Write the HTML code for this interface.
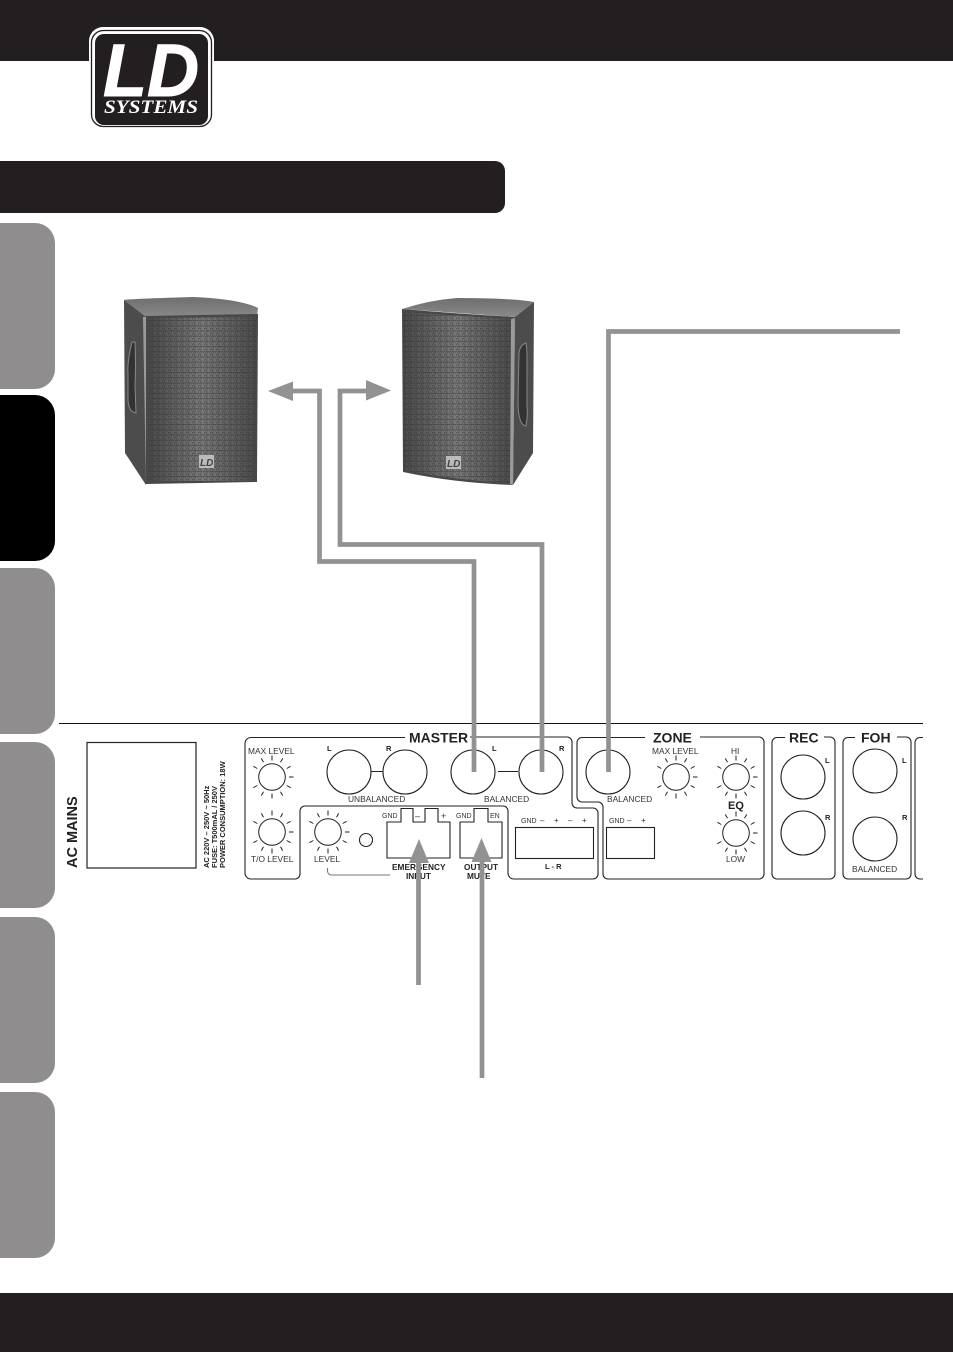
<!DOCTYPE html>
<html><head><meta charset="utf-8"><style>
html,body{margin:0;padding:0;background:#fff}
svg{display:block}
text{font-family:"Liberation Sans",sans-serif}
</style></head><body>
<svg width="953" height="1352" viewBox="0 0 953 1352" xmlns="http://www.w3.org/2000/svg">
<defs>
<pattern id="hex" width="6" height="5.2" patternUnits="userSpaceOnUse">
<path d="M0 1.3L1.5 0.4L3 1.3V2.9L1.5 3.8L0 2.9ZM3 3.9L4.5 3L6 3.9V5.5L4.5 6.4L3 5.5Z" fill="none" stroke="#2a2a2a" stroke-width=".55" stroke-opacity=".75"/>
</pattern>
<linearGradient id="gr" x1="0" x2="1" y1="0" y2="0"><stop offset="0" stop-color="#4a4a4a"/><stop offset=".5" stop-color="#7a7a7a"/><stop offset="1" stop-color="#4c4c4c"/></linearGradient>
<linearGradient id="top" x1="0" x2="0" y1="0" y2="1"><stop offset="0" stop-color="#6e6e6e"/><stop offset="1" stop-color="#8a8a8a"/></linearGradient>
<g id="k" stroke="#222" stroke-width="1" fill="none">
<circle r="13.3" fill="#fff"/>
<path d="M0-16.5V-21.5M8.5-14.7L10.700-18.600M14.700-8.500L18.600-10.700M17 0H21.500M14.700 8.500L18.600 10.700M8.500 14.700L10.700 18.600M0 16.500V21.500M-8.500 14.700L-10.700 18.600M-14.700 8.500L-18.600 10.700M-14.700-8.500L-18.600-10.700M-8.500-14.700L-10.700-18.600"/>
</g>
</defs>

<rect width="953" height="61" fill="#231f20"/>
<rect y="1293" width="953" height="59" fill="#231f20"/>

<!-- logo -->
<rect x="89" y="27" width="125" height="100" rx="14" fill="#fff"/>
<rect x="91.500" y="30.500" width="120" height="96" rx="12" fill="#fff" stroke="#231f20" stroke-width="1.300"/>
<rect x="95" y="34" width="113" height="91" rx="9" fill="#231f20"/>
<text x="103" y="96" font-size="74" font-weight="700" font-style="italic" fill="#fff" stroke="#fff" stroke-width="1" textLength="96" lengthAdjust="spacingAndGlyphs">LD</text>
<text x="104" y="113" font-size="18.500" font-weight="700" font-style="italic" fill="#fff" style='font-family:"Liberation Serif",serif' textLength="94" lengthAdjust="spacingAndGlyphs">SYSTEMS</text>

<!-- title bar -->
<path d="M0 161H495a10 10 0 0 1 10 10V203a10 10 0 0 1-10 10H0Z" fill="#231f20"/>

<!-- side tabs -->
<g fill="#8f8d8d">
<path d="M0 223H35a20 20 0 0 1 20 20V369a20 20 0 0 1-20 20H0Z"/>
<path d="M0 568H35a20 20 0 0 1 20 20V714a20 20 0 0 1-20 20H0Z"/>
<path d="M0 742H35a20 20 0 0 1 20 20V888a20 20 0 0 1-20 20H0Z"/>
<path d="M0 917H35a20 20 0 0 1 20 20V1063a20 20 0 0 1-20 20H0Z"/>
<path d="M0 1092H35a20 20 0 0 1 20 20V1238a20 20 0 0 1-20 20H0Z"/>
</g>
<path d="M0 395H35a20 20 0 0 1 20 20V541a20 20 0 0 1-20 20H0Z" fill="#000"/>

<!-- speaker 1 -->
<path d="M124 300Q126 299 193 297Q240 299 258 308L257 316L146 318Z" fill="url(#top)"/>
<path d="M124 300L146 317L146 485L125 453Z" fill="#4c4c4c"/>
<path d="M132 342q-5 20-4 32l0 24q0 14 8 15l-1-28q1-24 0-43Z" fill="#333" stroke="#888" stroke-width="1"/>
<path d="M143 317L148 317V484L146 484Z" fill="#9a9a9a"/>
<path d="M146 316L258 314L257 482L146 484Z" fill="#484848"/>
<path d="M148 318L256 317L255 481L148 481Z" fill="url(#gr)"/>
<path d="M148 318L256 317L255 481L148 481Z" fill="url(#hex)"/>
<rect x="199" y="455" width="15" height="13" fill="#bbb"/>
<text x="200" y="466" font-size="10" font-weight="700" font-style="italic" fill="#444">LD</text>

<!-- speaker 2 -->
<path d="M402 309Q430 300 457 298Q510 298 534 302L515 317Z" fill="url(#top)"/>
<path d="M515 317L534 302L533 453L513 485Z" fill="#4c4c4c"/>
<path d="M526 343q-6 2-7 10l-1 48q0 24 8 25q2-10 1-20l0-50q0-8-1-13Z" fill="#333" stroke="#888" stroke-width="1"/>
<path d="M402 309Q460 314 515 317L513 485Q455 483 403 472Z" fill="#484848"/>
<path d="M403 312Q460 316 511 319L510 483Q455 480 404 470Z" fill="url(#gr)"/>
<path d="M403 312Q460 316 511 319L510 483Q455 480 404 470Z" fill="url(#hex)"/>
<path d="M511 319L515 318L513 485L510 484Z" fill="#9a9a9a"/>
<rect x="446" y="456" width="15" height="13" fill="#bbb"/>
<text x="447" y="467" font-size="10" font-weight="700" font-style="italic" fill="#444">LD</text>

<!-- rule -->
<path d="M59 723.500H923" stroke="#111" stroke-width="1"/>

<!-- panel outlines -->
<g fill="none" stroke="#222" stroke-width="1.100">
<rect x="87" y="742.500" width="109" height="125.500" stroke-width="1.200"/>
<path d="M405 737.500H251a6 6 0 0 0-6 6V873a6 6 0 0 0 6 6H295a5 5 0 0 0 5-5V811a5 5 0 0 1 5-5H503a5 5 0 0 1 5 5V873a6 6 0 0 0 6 6H593a5 5 0 0 0 5-5V813a5 5 0 0 0-5-5H577a5 5 0 0 1-5-5V742a5 5 0 0 0-5-5H470"/>
<path d="M645 737.500H582a5 5 0 0 0-5 5V797a5 5 0 0 0 5 5H598a5 5 0 0 1 5 5V874a5 5 0 0 0 5 5H759a5 5 0 0 0 5-5V742a5 5 0 0 0-5-5H700"/>
<path d="M785 737.500H777a5 5 0 0 0-5 5V874a5 5 0 0 0 5 5H830a5 5 0 0 0 5-5V742a5 5 0 0 0-5-5H824"/>
<path d="M855 737.500H848a5 5 0 0 0-5 5V874a5 5 0 0 0 5 5H906a5 5 0 0 0 5-5V742a5 5 0 0 0-5-5H897"/>
<path d="M923 737.500H920a5 5 0 0 0-5 5V874a5 5 0 0 0 5 5H923"/>
<circle cx="349" cy="772" r="22"/><circle cx="405" cy="772" r="22"/>
<path d="M371 771.500H383M498 771.500H518"/>
<circle cx="473" cy="772" r="22"/><circle cx="541" cy="772" r="22"/>
<circle cx="608" cy="772" r="22"/>
<circle cx="803" cy="777" r="22"/><circle cx="803" cy="833" r="22"/>
<circle cx="875" cy="771" r="22"/><circle cx="875" cy="839" r="22"/>
<circle cx="366" cy="840" r="6.500"/>
<path d="M387 858V822H401V808.500H413V822H425V808.500H438V822H450V858Z"/>
<path d="M460 858V822H474V808.500H488V822H502V858Z"/>
<rect x="515.500" y="827.500" width="78" height="31"/>
<rect x="606.500" y="827.500" width="48" height="31"/>
<path d="M327.500 868V871a4 4 0 0 0 4 4H390" stroke="#777"/>
</g>
<use href="#k" x="272" y="777"/><use href="#k" x="272" y="832"/><use href="#k" x="328" y="832"/>
<use href="#k" x="676" y="777"/><use href="#k" x="736" y="777"/><use href="#k" x="736" y="833"/>

<!-- labels -->
<g fill="#333" font-size="8.400">
<text x="248" y="754">MAX LEVEL</text>
<text x="251" y="862">T/O LEVEL</text>
<text x="314" y="862">LEVEL</text>
<text x="348" y="802">UNBALANCED</text>
<text x="484" y="802">BALANCED</text>
<text x="607" y="802">BALANCED</text>
<text x="652" y="754">MAX LEVEL</text>
<text x="731" y="754">HI</text>
<text x="726" y="862">LOW</text>
<text x="852" y="872">BALANCED</text>
</g>
<g fill="#333" font-size="7">
<text x="382" y="818">GND</text>
<text x="456" y="818">GND</text>
<text x="521" y="823">GND</text>
<text x="609" y="823">GND</text>
<text x="490" y="818">EN</text>
<text x="415" y="819" font-size="9">–</text>
<text x="441" y="819" font-size="9">+</text>
<text x="540" y="823" font-size="8">–</text>
<text x="554" y="823" font-size="8">+</text>
<text x="568" y="823" font-size="8">–</text>
<text x="582" y="823" font-size="8">+</text>
<text x="627" y="823" font-size="8">–</text>
<text x="641" y="823" font-size="8">+</text>
</g>
<g fill="#222" font-weight="700">
<text x="409" y="742.500" font-size="14">MASTER</text>
<text x="653" y="742.500" font-size="14">ZONE</text>
<text x="789" y="742.500" font-size="14">REC</text>
<text x="861" y="742.500" font-size="14">FOH</text>
<text x="728" y="809" font-size="11">EQ</text>
<g font-size="7.500">
<text x="327" y="751">L</text><text x="386" y="751">R</text>
<text x="492" y="751">L</text><text x="559" y="751">R</text>
<text x="825" y="763">L</text><text x="825" y="820">R</text>
<text x="902" y="763">L</text><text x="902" y="820">R</text>
<text x="545" y="869">L - R</text>
</g>
<g font-size="8.300">
<text x="392" y="870">EMERGENCY</text><text x="406" y="879">INPUT</text>
<text x="464" y="870">OUTPUT</text><text x="467" y="879">MUTE</text>
</g>
<text transform="translate(77 868) rotate(-90)" font-size="14.500">AC MAINS</text>
<g font-size="7.500" fill="#222">
<text transform="translate(209 868) rotate(-90)">AC 220V – 250V ~ 50Hz</text>
<text transform="translate(217 868) rotate(-90)">FUSE: T500mAL / 250V</text>
<text transform="translate(225 868) rotate(-90)">POWER CONSUMPTION: 18W</text>
</g>
</g>

<!-- connectors -->
<g fill="none" stroke="#929292" stroke-width="4.700">
<path d="M474 772V561.500H319.500V391H290"/>
<path d="M542 772V544.500H340V391H368"/>
<path d="M608.500 772V331.500H900"/>
<path d="M418.500 985V860"/>
<path d="M482 1078V858"/>
</g>
<g fill="#929292">
<path d="M268 391L293 381.500V401Z"/>
<path d="M391 390.500L366 380V400.500Z"/>
<path d="M419 839L409 863H429Z"/>
<path d="M481.500 838L471.500 862H491.500Z"/>
</g>
</svg>
</body></html>
